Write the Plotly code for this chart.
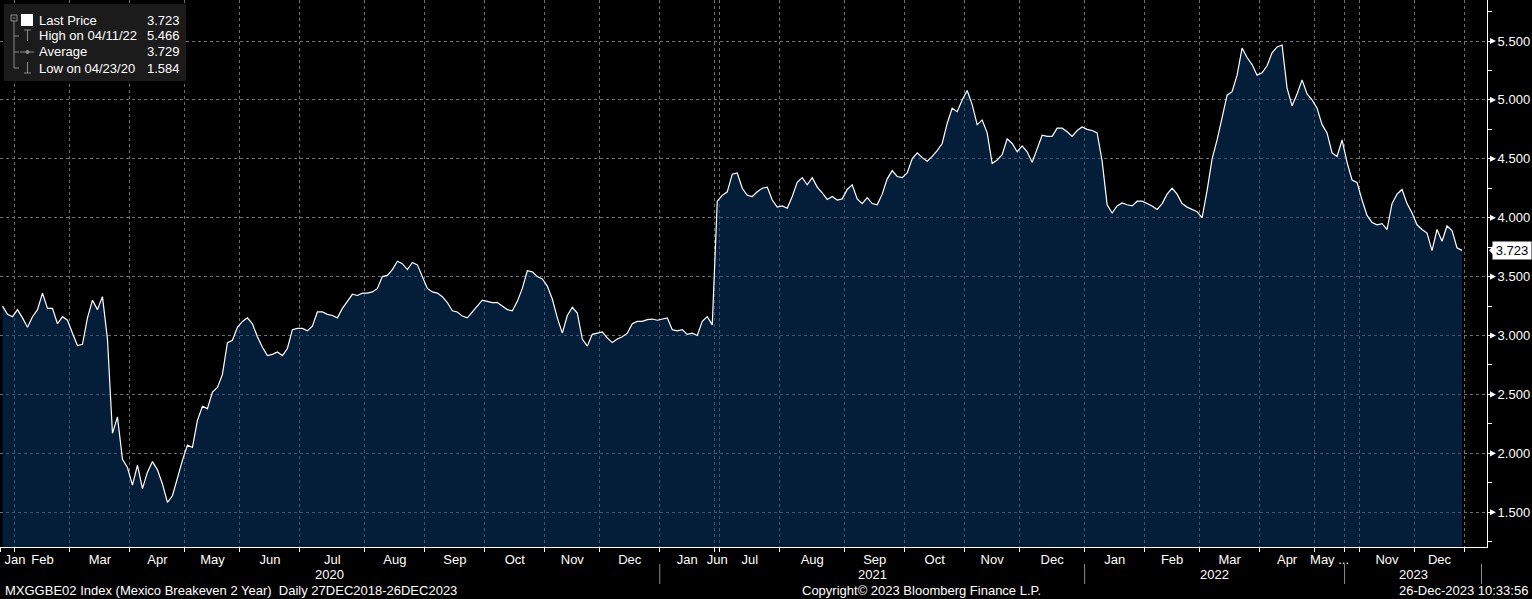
import plotly.graph_objects as go

# ---- values, roughly one point every 5 px ----
month_labels = ["Jan", "Feb", "Mar", "Apr", "May", "Jun", "Jul", "Aug", "Sep", "Oct", "Nov", "Dec",
                "Jan", "Jun", "Jul", "Aug", "Sep", "Oct", "Nov", "Dec",
                "Jan", "Feb", "Mar", "Apr", "May ...",
                "", "Nov", "Dec"]
month_years = [2020] * 12 + [2021] * 8 + [2022] * 5 + [2023] * 3
month_values = [
    [3.25, 3.18, 3.16],
    [3.22, 3.15, 3.07, 3.16, 3.22, 3.36, 3.23, 3.23, 3.10, 3.16, 3.13],
    [3.02, 2.915, 2.925, 3.15, 3.30, 3.22, 3.33, 2.97, 2.17, 2.31, 1.95, 1.88],
    [1.73, 1.90, 1.70, 1.84, 1.93, 1.86, 1.74, 1.584, 1.64, 1.80, 1.94],
    [2.07, 2.05, 2.28, 2.40, 2.38, 2.52, 2.56, 2.67, 2.94, 2.96, 3.07],
    [3.12, 3.15, 3.10, 2.99, 2.90, 2.83, 2.84, 2.86, 2.83, 2.89, 3.05, 3.06],
    [3.06, 3.04, 3.08, 3.20, 3.20, 3.18, 3.17, 3.15, 3.23, 3.29, 3.35, 3.34, 3.36],
    [3.36, 3.37, 3.40, 3.50, 3.51, 3.56, 3.63, 3.61, 3.56, 3.62, 3.60, 3.50],
    [3.40, 3.37, 3.36, 3.33, 3.28, 3.21, 3.20, 3.165, 3.15, 3.20, 3.25, 3.30],
    [3.29, 3.28, 3.28, 3.25, 3.22, 3.21, 3.29, 3.40, 3.55, 3.54, 3.50, 3.48],
    [3.42, 3.31, 3.15, 3.02, 3.17, 3.24, 3.19, 2.97, 2.91, 3.01, 3.02],
    [3.03, 2.98, 2.94, 2.97, 2.99, 3.02, 3.10, 3.12, 3.12, 3.135, 3.14, 3.13],
    [3.14, 3.15, 3.05, 3.04, 3.05, 3.01, 3.02, 3.00, 3.12, 3.16, 3.09],
    [4.14],
    [4.19, 4.22, 4.37, 4.38, 4.25, 4.19, 4.18, 4.22, 4.25, 4.26, 4.15, 4.09],
    [4.10, 4.08, 4.18, 4.30, 4.34, 4.28, 4.34, 4.26, 4.21, 4.155, 4.18, 4.15, 4.16],
    [4.24, 4.28, 4.16, 4.12, 4.17, 4.12, 4.11, 4.20, 4.33, 4.40, 4.35, 4.34],
    [4.38, 4.50, 4.55, 4.51, 4.48, 4.52, 4.57, 4.63, 4.80, 4.93, 4.90, 5.00],
    [5.08, 4.96, 4.79, 4.83, 4.72, 4.46, 4.49, 4.535, 4.67, 4.63, 4.56],
    [4.61, 4.56, 4.47, 4.58, 4.70, 4.69, 4.69, 4.76, 4.76, 4.73, 4.69, 4.74, 4.77],
    [4.75, 4.74, 4.72, 4.48, 4.11, 4.04, 4.10, 4.125, 4.11, 4.10, 4.14, 4.14],
    [4.12, 4.10, 4.07, 4.12, 4.20, 4.25, 4.20, 4.12, 4.09, 4.07, 4.05],
    [4.00, 4.23, 4.50, 4.66, 4.85, 5.04, 5.07, 5.21, 5.44, 5.36, 5.30, 5.21],
    [5.23, 5.29, 5.40, 5.45, 5.466, 5.10, 4.95, 5.05, 5.17, 5.05, 5.00],
    [4.93, 4.79, 4.72, 4.55, 4.52, 4.66],
    [4.47, 4.32, 4.30],
    [4.15, 4.02, 3.96, 3.94, 3.95, 3.90, 4.12, 4.20, 4.24, 4.12, 4.04],
    [3.94, 3.90, 3.87, 3.72, 3.90, 3.80, 3.93, 3.89, 3.745, 3.723],
]

last_price = 3.723
high_price, high_date = 5.466, "04/11/22"
avg_price = 3.729
low_price, low_date = 1.584, "04/23/20"

y_ticks = [1.5, 2.0, 2.5, 3.0, 3.5, 4.0, 4.5, 5.0, 5.5]
y_range = [1.205, 5.848]

title_text = "MXGGBE02 Index (Mexico Breakeven 2 Year)  Daily 27DEC2018-26DEC2023"
copyright_text = "Copyright\u00a9 2023 Bloomberg Finance L.P."
stamp_text = "26-Dec-2023 10:33:56"

# ---- flatten months into one series of slots ----
values, starts = [], []
for vals in month_values:
    starts.append(len(values))
    values.extend(vals)
x = list(range(len(values)))
bounds = [s - 0.5 for s in starts] + [len(values) - 0.5]
label_pos = [s + (len(v) - 1) / 2 for s, v in zip(starts, month_values)]
label_pos[0] = bounds[1]  # first month is clipped, its label sits on the boundary

x_range = [-0.5, len(values) + 4]

W, H = 1532, 599
ML, MR, MT, MB = 0, 45, 0, 52
PW, PH = W - ML - MR, H - MT - MB
FONT = "Liberation Sans, Arial, sans-serif"
GRID = "#707070"


def px(xp):
    return xp / PW


def py(yp):
    return 1 - yp / PH


fig = go.Figure()
fig.add_trace(go.Scatter(
    x=x, y=values, mode="lines",
    line=dict(color="white", width=1.2),
    fill="tozeroy", fillcolor="rgba(8,58,114,0.5)",
    hoverinfo="skip", showlegend=False,
))

shapes = []
annotations = []

# year separators and labels under the month row
years = sorted(set(month_years))
year_bounds = []
for yr in years:
    idx = [i for i, y in enumerate(month_years) if y == yr]
    year_bounds.append((bounds[idx[0]], bounds[idx[-1] + 1]))
year_bounds[-1] = (year_bounds[-1][0], x_range[1] - 1.1)
for yr, (a, b) in zip(years, year_bounds):
    annotations.append(dict(x=(a + b) / 2, y=py(574), xref="x", yref="paper",
                            text=str(yr), showarrow=False, yanchor="middle",
                            font=dict(color="white", size=13, family=FONT)))
    shapes.append(dict(type="line", xref="x", yref="paper", x0=b, x1=b,
                       y0=py(564), y1=py(584), line=dict(color="#8c8c8c", width=1)))

# footer
annotations += [
    dict(x=px(3), y=py(590), text=title_text, xanchor="left"),
    dict(x=px(921), y=py(590), text=copyright_text, xanchor="center"),
    dict(x=px(1530), y=py(590), text=stamp_text, xanchor="right"),
]
for a in annotations[-3:]:
    a.update(xref="paper", yref="paper", showarrow=False, yanchor="middle",
             font=dict(color="white", size=13, family=FONT))

# small triangles on the right-axis major ticks
for v in y_ticks:
    shapes.append(dict(type="path", xref="paper", yref="y",
                       path=f"M {px(1490)},{v + 0.026} L {px(1496)},{v} L {px(1490)},{v - 0.026} Z",
                       fillcolor="white", line=dict(width=0)))

# last price flag: pointer triangle + white label box
lp = last_price
shapes.append(dict(type="path", xref="paper", yref="y",
                   path=f"M {px(1489)},{lp} L {px(1496)},{lp + 0.064} L {px(1496)},{lp - 0.064} Z",
                   fillcolor="white", line=dict(width=0)))
annotations.append(dict(x=px(1532), y=lp, xref="paper", yref="y", text=f"{lp:.3f}",
                        xanchor="right", yanchor="middle", showarrow=False,
                        bgcolor="white", borderpad=1, width=36, align="center",
                        font=dict(color="black", size=13, family=FONT)))

# legend panel (top left)
shapes.append(dict(type="rect", xref="paper", yref="paper", x0=px(4), x1=px(186),
                   y0=py(4), y1=py(81), fillcolor="#1b1b1b", line=dict(width=0)))
tree = "#8a8a8a"
for (x0, y0, x1, y1) in [
    (11, 15, 17, 15), (11, 21, 17, 21), (11, 15, 11, 21), (17, 15, 17, 21), (12.5, 18, 15.5, 18),
    (14, 21, 14, 68), (14, 36, 19, 36), (14, 52, 19, 52), (14, 68, 19, 68),
    (24, 30, 31, 30), (27.5, 30, 27.5, 41),
    (20, 52, 34, 52),
    (27.5, 62, 27.5, 73), (24, 73, 31, 73),
]:
    shapes.append(dict(type="line", xref="paper", yref="paper", x0=px(x0), x1=px(x1),
                       y0=py(y0), y1=py(y1), line=dict(color=tree, width=1)))
shapes.append(dict(type="circle", xref="paper", yref="paper", x0=px(25.5), x1=px(29.5),
                   y0=py(50), y1=py(54), fillcolor=tree, line=dict(width=0)))
shapes.append(dict(type="rect", xref="paper", yref="paper", x0=px(21), x1=px(33),
                   y0=py(14), y1=py(26), fillcolor="white", line=dict(width=0)))

legend_rows = [
    ("Last Price", last_price),
    (f"High on {high_date}", high_price),
    ("Average", avg_price),
    (f"Low on {low_date}", low_price),
]
for i, (name, val) in enumerate(legend_rows):
    yy = py(20 + 16 * i)
    annotations.append(dict(x=px(37), y=yy, text=name, xanchor="left"))
    annotations.append(dict(x=px(182), y=yy, text=f"{val:.3f}", xanchor="right"))
for a in annotations[-8:]:
    a.update(xref="paper", yref="paper", showarrow=False, yanchor="middle",
             font=dict(color="white", size=13, family=FONT))

fig.update_layout(
    width=W, height=H,
    margin=dict(l=ML, r=MR, t=MT, b=MB),
    paper_bgcolor="black", plot_bgcolor="black",
    font=dict(family=FONT, color="white", size=13),
    showlegend=False,
    shapes=shapes, annotations=annotations,
    xaxis=dict(
        range=x_range, showgrid=False, zeroline=False,
        tickmode="array", tickvals=label_pos, ticktext=month_labels,
        ticks="", tickangle=0, ticklabelstandoff=0,
        tickfont=dict(color="white", size=13, family=FONT),
        showline=True, linecolor="white", linewidth=1,
        minor=dict(tickmode="array", tickvals=bounds, ticks="outside", ticklen=4,
                   tickcolor="white", showgrid=True, gridcolor=GRID,
                   griddash="3px,3px", gridwidth=1),
    ),
    yaxis=dict(
        side="right", range=y_range, zeroline=False,
        tickmode="array", tickvals=y_ticks, ticktext=[f"{v:.3f}" for v in y_ticks],
        ticks="outside", ticklen=3, tickcolor="white", ticklabelstandoff=4,
        tickfont=dict(color="white", size=13, family=FONT),
        showgrid=True, gridcolor=GRID, griddash="3px,3px", gridwidth=1,
        showline=True, linecolor="white", linewidth=1,
        minor=dict(dtick=0.25, tick0=0, ticks="outside", ticklen=4, tickcolor="white",
                   showgrid=False),
    ),
)

# the page's default body margin would push the fixed-size figure off the window
fig.write_html("out.html", config={"displayModeBar": False},
               post_script="document.body.style.margin='0px';")
